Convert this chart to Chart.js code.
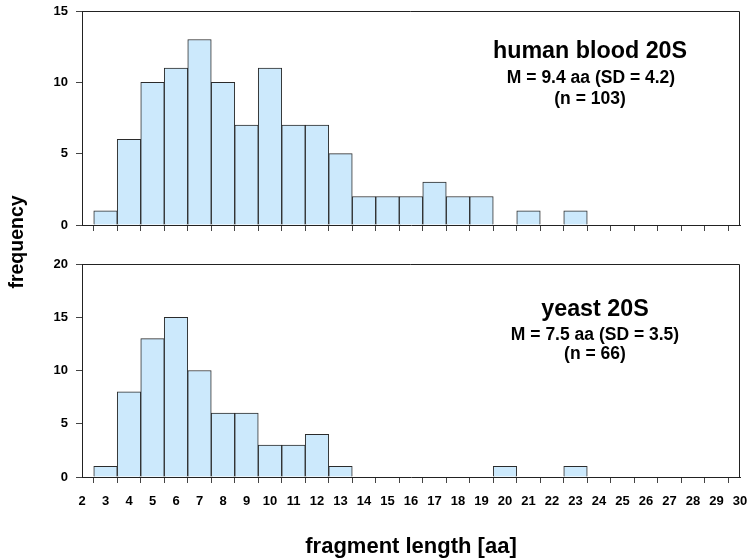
<!DOCTYPE html>
<html>
<head>
<meta charset="utf-8">
<script src="https://cdn.jsdelivr.net/npm/chart.js@4.4.1/dist/chart.umd.min.js"></script>
<style>
  html, body { margin: 0; padding: 0; background: #ffffff; }
  #wrap { position: relative; width: 748px; height: 560px; }
  #wrap canvas { position: absolute; left: 0; top: 0; }
</style>
</head>
<body>
<div id="wrap">
  <canvas id="lower" width="748" height="560"></canvas>
  <canvas id="upper" width="748" height="240"></canvas>
</div>
<script>
// Fragment lengths (aa), one category per integer length
const lengths = ['2','3','4','5','6','7','8','9','10','11','12','13','14','15','16',
                 '17','18','19','20','21','22','23','24','25','26','27','28','29','30'];

// Frequency of each fragment length, human blood 20S proteasome
const humanCounts = [0, 1, 6, 10, 11, 13, 10, 7, 11, 7, 7, 5, 2, 2, 2,
                     3, 2, 2, 0, 1, 0, 1, 0, 0, 0, 0, 0, 0, 0];

// Frequency of each fragment length, yeast 20S proteasome
const yeastCounts = [0, 1, 8, 13, 15, 10, 6, 6, 3, 3, 4, 1, 0, 0, 0,
                     0, 0, 0, 1, 0, 0, 1, 0, 0, 0, 0, 0, 0, 0];

const humanNotes = ['human blood 20S', 'M = 9.4 aa (SD = 4.2)', '(n = 103)'];
const yeastNotes = ['yeast 20S', 'M = 7.5 aa (SD = 3.5)', '(n = 66)'];

const yTicksUpper = { max: 15, step: 5 };
const yTicksLower = { max: 20, step: 5 };

const FONT = "'Liberation Sans', Arial, Helvetica, sans-serif";
const BAR_FILL = '#cce9fc';
const BAR_EDGE = '#2b2b2b';
const AXIS = '#222222';

// Closed box: Chart.js draws the left and bottom axes, this adds top and right.
const framePlugin = {
  id: 'frame',
  afterDraw(chart) {
    const { ctx, chartArea: a } = chart;
    const t = Math.round(a.top) + 0.5;
    const r = Math.round(a.right) - 0.5;
    ctx.save();
    ctx.strokeStyle = AXIS;
    ctx.lineWidth = 1;
    ctx.beginPath();
    ctx.moveTo(Math.round(a.left), t);
    ctx.lineTo(r, t);
    ctx.lineTo(r, Math.round(a.bottom));
    ctx.stroke();
    ctx.restore();
  }
};

// Free text: panel annotations and shared axis titles
const textPlugin = {
  id: 'freeText',
  afterDraw(chart, args, opts) {
    const { ctx } = chart;
    ctx.save();
    ctx.fillStyle = '#000';
    ctx.textBaseline = 'alphabetic';
    for (const item of opts.items || []) {
      ctx.save();
      ctx.font = item.font;
      ctx.translate(item.x, item.y);
      if (item.rotate) ctx.rotate(item.rotate);
      ctx.textAlign = 'center';
      ctx.fillText(item.text, 0, 0);
      ctx.restore();
    }
    ctx.restore();
  }
};

function makeHistogram(canvasId, counts, yTicks, opts) {
  const ctx = document.getElementById(canvasId);
  return new Chart(ctx, {
    type: 'bar',
    data: {
      labels: lengths,
      datasets: [{
        data: counts.map(v => (v === 0 ? null : v)),
        backgroundColor: BAR_FILL,
        borderColor: BAR_EDGE,
        borderWidth: 1,
        borderSkipped: 'bottom',
        barPercentage: 1.0,
        categoryPercentage: 1.0
      }]
    },
    options: {
      responsive: false,
      animation: false,
      devicePixelRatio: 1,
      layout: { padding: { top: opts.padTop, right: 8, left: 0, bottom: 0 } },
      plugins: {
        legend: { display: false },
        tooltip: { enabled: false },
        freeText: { items: opts.texts }
      },
      scales: {
        x: {
          type: 'category',
          offset: false,
          afterFit: s => {
            s.height = opts.xHeight;
            s.paddingLeft = 0;
            s.paddingRight = 0;
          },
          border: { display: true, color: AXIS, width: 1 },
          grid: {
            display: true,
            drawOnChartArea: false,
            drawTicks: true,
            tickLength: 6,
            color: '#444',
            lineWidth: 1
          },
          ticks: {
            autoSkip: false,
            maxRotation: 0,
            minRotation: 0,
            padding: 11,
            color: opts.showXLabels ? '#000' : 'rgba(0,0,0,0)',
            font: { family: FONT, size: 13, weight: 'bold' }
          }
        },
        y: {
          min: 0,
          max: yTicks.max,
          afterFit: s => {
            s.width = 82;
            s.paddingTop = 0;
            s.paddingBottom = 0;
          },
          border: { display: true, color: AXIS, width: 1 },
          grid: {
            display: true,
            drawOnChartArea: false,
            drawTicks: true,
            tickLength: 6,
            color: '#444',
            lineWidth: 1
          },
          ticks: {
            stepSize: yTicks.step,
            padding: 8,
            color: '#000',
            font: { family: FONT, size: 13, weight: 'bold' }
          }
        }
      }
    },
    plugins: [framePlugin, textPlugin]
  });
}

const big = `bold 23.3px ${FONT}`;
const small = `bold 17.5px ${FONT}`;

// Lower panel (yeast), with x tick labels and the shared axis titles
makeHistogram('lower', yeastCounts, yTicksLower, {
  padTop: 264,
  xHeight: 83,
  showXLabels: true,
  texts: [
    { text: yeastNotes[0], x: 595, y: 316, font: big },
    { text: yeastNotes[1], x: 595, y: 340, font: small },
    { text: yeastNotes[2], x: 595, y: 359, font: small },
    { text: 'fragment length [aa]', x: 411, y: 553, font: `bold 22px ${FONT}` },
    { text: 'frequency', x: 22.5, y: 242, rotate: -Math.PI / 2, font: `bold 19.5px ${FONT}` }
  ]
});

// Upper panel (human blood)
makeHistogram('upper', humanCounts, yTicksUpper, {
  padTop: 11,
  xHeight: 15,
  showXLabels: false,
  texts: [
    { text: humanNotes[0], x: 590, y: 58, font: big },
    { text: humanNotes[1], x: 591, y: 83, font: small },
    { text: humanNotes[2], x: 590, y: 104, font: small }
  ]
});
</script>
</body>
</html>
